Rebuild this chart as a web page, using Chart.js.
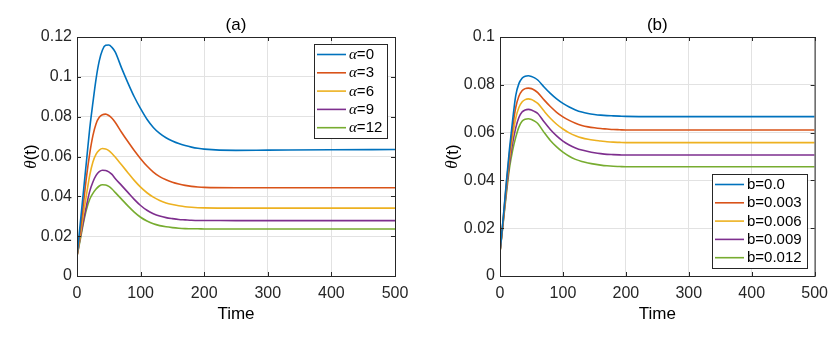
<!DOCTYPE html>
<html lang="en">
<head>
<meta charset="UTF-8">
<title>theta(t) over time</title>
<script src="https://cdn.jsdelivr.net/npm/chart.js"></script>
<style>
  body { margin: 0; background: #fff; }
  .wrap { position: relative; width: 836px; height: 343px; }
  canvas { position: absolute; top: 0; }
  #chartA { left: 0; }
  #chartB { left: 420px; }
</style>
</head>
<body>
<div class="wrap">
  <canvas id="chartA" width="420" height="343"></canvas>
  <canvas id="chartB" width="416" height="343"></canvas>
</div>
<script>
  // sample times (shared by every curve)
  const time = [0, 5, 10, 15, 20, 25, 30, 35, 40, 45, 50, 55, 60, 70, 80, 90, 100, 110, 120, 130, 140, 150, 160, 170, 180, 190, 200, 250, 300, 400, 500];

  // panel (a): alpha series
  const alphaLabels = ['α=0', 'α=3', 'α=6', 'α=9', 'α=12'];
  const alpha0  = [0.010, 0.026, 0.042, 0.058, 0.074, 0.087, 0.099, 0.108, 0.1135, 0.1158, 0.1160, 0.1148, 0.1125, 0.1045, 0.0970, 0.0900, 0.0840, 0.0787, 0.0746, 0.0716, 0.0694, 0.0678, 0.0665, 0.0655, 0.0647, 0.0641, 0.0637, 0.0631, 0.0632, 0.0634, 0.0635];
  const alpha3  = [0.010, 0.0225, 0.036, 0.050, 0.0615, 0.0705, 0.0765, 0.0797, 0.0810, 0.0813, 0.0806, 0.0792, 0.0772, 0.0722, 0.0675, 0.0630, 0.0589, 0.0552, 0.0522, 0.0499, 0.0483, 0.0471, 0.0462, 0.0455, 0.0450, 0.0447, 0.0445, 0.0443, 0.0443, 0.0443, 0.0443];
  const alpha6  = [0.010, 0.020, 0.031, 0.041, 0.0505, 0.0572, 0.0612, 0.0632, 0.0640, 0.0638, 0.0630, 0.0615, 0.0597, 0.0558, 0.0519, 0.0480, 0.0446, 0.0418, 0.0396, 0.0379, 0.0367, 0.0359, 0.0353, 0.0348, 0.0345, 0.0343, 0.0342, 0.0341, 0.0341, 0.0341, 0.0341];
  const alpha9  = [0.010, 0.019, 0.0275, 0.0355, 0.0425, 0.0472, 0.0505, 0.0524, 0.0531, 0.0530, 0.0523, 0.0510, 0.0490, 0.0455, 0.0420, 0.0385, 0.0354, 0.0330, 0.0313, 0.0301, 0.0293, 0.0288, 0.0284, 0.0282, 0.0280, 0.0279, 0.0279, 0.0278, 0.0278, 0.0278, 0.0278];
  const alpha12 = [0.010, 0.018, 0.0265, 0.0335, 0.0385, 0.0415, 0.0437, 0.0452, 0.0458, 0.0457, 0.0450, 0.0437, 0.0420, 0.0386, 0.0352, 0.0321, 0.0295, 0.0276, 0.0262, 0.0253, 0.0247, 0.0243, 0.0240, 0.0238, 0.0237, 0.0237, 0.0236, 0.0236, 0.0236, 0.0236, 0.0236];

  // panel (b): b series
  const bLabels = ['b=0.0', 'b=0.003', 'b=0.006', 'b=0.009', 'b=0.012'];
  const b000 = [0.010, 0.024, 0.039, 0.053, 0.065, 0.0755, 0.0805, 0.0827, 0.0836, 0.0838, 0.0835, 0.0829, 0.0820, 0.0791, 0.0764, 0.0741, 0.0722, 0.0707, 0.0695, 0.0686, 0.0680, 0.0676, 0.0673, 0.0671, 0.0670, 0.0669, 0.0668, 0.0667, 0.0667, 0.0667, 0.0667];
  const b003 = [0.010, 0.0235, 0.038, 0.051, 0.062, 0.0705, 0.0752, 0.0775, 0.0784, 0.0786, 0.0784, 0.0777, 0.0767, 0.0737, 0.0709, 0.0685, 0.0666, 0.0651, 0.0639, 0.0630, 0.0624, 0.0620, 0.0617, 0.0615, 0.0613, 0.0612, 0.0611, 0.0611, 0.0611, 0.0611, 0.0611];
  const b006 = [0.010, 0.023, 0.037, 0.049, 0.0585, 0.066, 0.0705, 0.0728, 0.0738, 0.0741, 0.0738, 0.0731, 0.0722, 0.0690, 0.0660, 0.0635, 0.0615, 0.0599, 0.0587, 0.0578, 0.0572, 0.0568, 0.0565, 0.0562, 0.0560, 0.0559, 0.0558, 0.0558, 0.0558, 0.0558, 0.0558];
  const b009 = [0.010, 0.0225, 0.0355, 0.047, 0.0555, 0.062, 0.0663, 0.0686, 0.0695, 0.0697, 0.0695, 0.0688, 0.0680, 0.0645, 0.0613, 0.0586, 0.0564, 0.0548, 0.0536, 0.0527, 0.0521, 0.0516, 0.0512, 0.0509, 0.0508, 0.0507, 0.0506, 0.0506, 0.0506, 0.0506, 0.0506];
  const b012 = [0.010, 0.022, 0.034, 0.045, 0.0525, 0.058, 0.0623, 0.0647, 0.0656, 0.0658, 0.0655, 0.0648, 0.0638, 0.0601, 0.0567, 0.0540, 0.0518, 0.0501, 0.0488, 0.0479, 0.0473, 0.0468, 0.0464, 0.0461, 0.0459, 0.0458, 0.0457, 0.0457, 0.0457, 0.0457, 0.0457];

  // ticks
  const xTicks = [0, 100, 200, 300, 400, 500];
  const xTickLabels = ['0', '100', '200', '300', '400', '500'];
  const yTicksA = [0, 0.02, 0.04, 0.06, 0.08, 0.1, 0.12];
  const yTickLabelsA = ['0', '0.02', '0.04', '0.06', '0.08', '0.1', '0.12'];
  const yTicksB = [0, 0.02, 0.04, 0.06, 0.08, 0.1];
  const yTickLabelsB = ['0', '0.02', '0.04', '0.06', '0.08', '0.1'];

  const colors = ['#0072BD', '#D95319', '#EDB120', '#7E2F8E', '#77AC30'];
  const SANS = '"Liberation Sans", Arial, Helvetica, sans-serif';
  const SERIF = '"Liberation Serif", "Times New Roman", serif';
  const INK = '#262626';

  // text pieces, so the greek letters can be italic like matlab's tex
  function richParts(label, size) {
    const greek = label.charAt(0);
    if (greek === 'α' || greek === 'θ') {
      return [{ text: greek, font: 'italic ' + size + 'px ' + SERIF }, { text: label.slice(1), font: size + 'px ' + SANS }];
    }
    return [{ text: label, font: size + 'px ' + SANS }];
  }

  function drawParts(ctx, parts, x, y, center) {
    let total = 0;
    parts.forEach(p => { ctx.font = p.font; p.w = ctx.measureText(p.text).width; total += p.w; });
    let cx = center ? x - total / 2 : x;
    parts.forEach(p => { ctx.font = p.font; ctx.fillText(p.text, cx, y); cx += p.w; });
    return total;
  }

  // box, inward ticks, title, y label and legend inside the axes
  const matlabFrame = {
    id: 'matlabFrame',
    afterDraw(chart, args, opts) {
      const { ctx, chartArea: a, scales: { x, y } } = chart;
      ctx.save();
      ctx.strokeStyle = INK;
      ctx.lineWidth = 1;
      ctx.strokeRect(a.left + 0.5, a.top + 0.5, a.right - a.left, a.bottom - a.top);

      ctx.beginPath();
      x.ticks.forEach(t => {
        const px = Math.round(x.getPixelForValue(t.value)) + 0.5;
        ctx.moveTo(px, a.bottom); ctx.lineTo(px, a.bottom - 4);
        ctx.moveTo(px, a.top); ctx.lineTo(px, a.top + 4);
      });
      y.ticks.forEach(t => {
        const py = Math.round(y.getPixelForValue(t.value)) + 0.5;
        ctx.moveTo(a.left, py); ctx.lineTo(a.left + 4, py);
        ctx.moveTo(a.right, py); ctx.lineTo(a.right - 4, py);
      });
      ctx.stroke();

      ctx.fillStyle = '#000';
      ctx.textBaseline = 'middle';
      drawParts(ctx, richParts(opts.title, 17), (a.left + a.right) / 2, 25, true);

      ctx.save();
      ctx.translate(opts.yTitleX, (a.top + a.bottom) / 2);
      ctx.rotate(-Math.PI / 2);
      drawParts(ctx, richParts('θ(t)', 17), 0, 0, true);
      ctx.restore();

      // legend
      const rows = chart.data.datasets.map(d => richParts(d.label, 15));
      let textW = 0;
      rows.forEach(parts => {
        let w = 0;
        parts.forEach(p => { ctx.font = p.font; w += ctx.measureText(p.text).width; });
        textW = Math.max(textW, w);
      });
      const rowH = 18.3;
      const boxW = Math.round(3 + 29 + 3 + textW + 5);
      const boxH = Math.round(rowH * (rows.length - 1) + 21);
      const bx = Math.round(a.right - 8 - boxW);
      const by = opts.legendAt === 'top' ? a.top + 7 : Math.round(a.bottom - 8 - boxH);
      ctx.fillStyle = '#fff';
      ctx.fillRect(bx, by, boxW, boxH);
      ctx.strokeStyle = INK;
      ctx.lineWidth = 1;
      ctx.strokeRect(bx + 0.5, by + 0.5, boxW, boxH);
      rows.forEach((parts, i) => {
        const ry = by + 10.5 + i * rowH;
        ctx.strokeStyle = chart.data.datasets[i].borderColor;
        ctx.lineWidth = 1.6;
        ctx.beginPath();
        ctx.moveTo(bx + 3, ry); ctx.lineTo(bx + 32, ry);
        ctx.stroke();
        ctx.fillStyle = '#000';
        drawParts(ctx, parts, bx + 35, ry + 0.5, false);
      });
      ctx.restore();
    }
  };

  function makeChart(id, labels, series, yMax, yTicks, yTickLabels, frameOpts, padRight) {
    const ctx = document.getElementById(id).getContext('2d');
    return new Chart(ctx, {
      type: 'line',
      data: {
        labels: time,
        datasets: series.map((vals, i) => ({
          label: labels[i],
          data: vals,
          borderColor: colors[i],
          backgroundColor: colors[i],
          borderWidth: 1.6,
          pointRadius: 0,
          cubicInterpolationMode: 'monotone',
          fill: false
        }))
      },
      options: {
        responsive: false,
        animation: false,
        devicePixelRatio: 1,
        layout: { padding: { left: 0, top: 37, right: padRight, bottom: 0 } },
        plugins: {
          legend: { display: false },
          tooltip: { enabled: false },
          title: { display: false },
          matlabFrame: frameOpts
        },
        scales: {
          x: {
            type: 'linear',
            min: 0,
            max: 500,
            afterBuildTicks: s => { s.ticks = xTicks.map(v => ({ value: v })); },
            afterFit: s => { s.height = 67; },
            grid: { color: '#e2e2e2', drawTicks: false },
            border: { display: false },
            ticks: {
              callback: (v, i) => xTickLabels[i],
              font: { family: SANS, size: 16 },
              color: INK,
              padding: 8,
              maxRotation: 0,
              autoSkip: false
            },
            title: {
              display: true,
              text: 'Time',
              font: { family: SANS, size: 17 },
              color: '#000',
              padding: { top: 0, bottom: 18 }
            }
          },
          y: {
            min: 0,
            max: yMax,
            afterBuildTicks: s => { s.ticks = yTicks.map(v => ({ value: v })); },
            afterFit: s => { s.width = frameOpts.leftW; },
            grid: { color: '#e2e2e2', drawTicks: false },
            border: { display: false },
            ticks: {
              callback: (v, i) => yTickLabels[i],
              font: { family: SANS, size: 16 },
              color: INK,
              padding: 5,
              autoSkip: false
            }
          }
        }
      },
      plugins: [matlabFrame]
    });
  }

  makeChart('chartA', alphaLabels, [alpha0, alpha3, alpha6, alpha9, alpha12], 0.12, yTicksA, yTickLabelsA,
    { title: '(a)', legendAt: 'top', yTitleX: 31.5, leftW: 77 }, 25);
  makeChart('chartB', bLabels, [b000, b003, b006, b009, b012], 0.1, yTicksB, yTickLabelsB,
    { title: '(b)', legendAt: 'bottom', yTitleX: 33, leftW: 80 }, 18);
</script>
</body>
</html>
